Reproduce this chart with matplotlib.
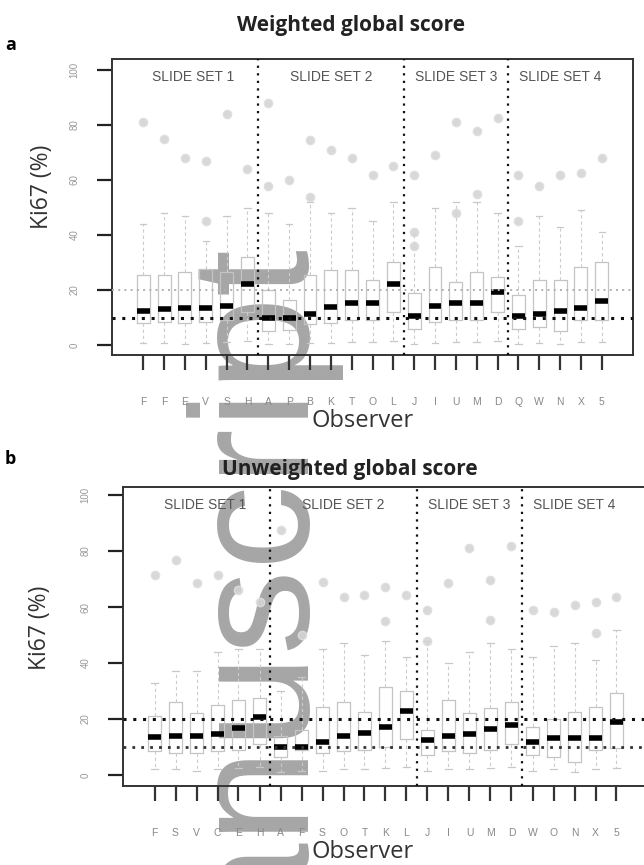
import matplotlib
matplotlib.use("Agg")
import matplotlib.pyplot as plt

# Ki67 scores per observer, two scoring methods
pos = list(range(2, 25))

obs_a = ['F', 'F', 'E', 'V', 'S', 'H', 'A', 'P', 'B', 'K', 'T', 'O', 'L',
         'J', 'I', 'U', 'M', 'D', 'Q', 'W', 'N', 'X', '5']
med_a = [12.4, 13.1, 13.5, 13.5, 14.2, 22.2, 9.8, 9.8, 11.3, 13.8, 15.3, 15.3, 22.2,
         10.5, 14.2, 15.3, 15.3, 19.3, 10.5, 11.3, 12.4, 13.5, 16.0]
q1_a = [8.0, 8.5, 8.0, 8.5, 9.0, 12.0, 5.0, 5.5, 7.5, 8.0, 9.0, 9.0, 12.0,
        6.0, 8.5, 9.0, 9.0, 12.0, 6.0, 6.7, 5.0, 9.0, 9.0]
q3_a = [25.5, 25.5, 26.7, 27.5, 26.7, 32.0, 20.0, 16.4, 25.5, 27.3, 27.3, 23.6, 30.3,
        18.8, 28.5, 23.0, 26.7, 24.8, 18.2, 23.6, 23.6, 28.5, 30.3]
lo_a = [0.8, 0.8, 0.5, 0.8, 1.0, 1.5, 0.5, 0.5, 0.8, 0.8, 1.0, 1.0, 1.5,
        0.5, 0.8, 1.0, 1.0, 1.5, 0.5, 0.8, 0.5, 1.0, 1.0]
hi_a = [44, 48, 47, 38, 47, 50, 48, 44, 52, 48, 50, 45, 52,
        40, 50, 52, 52, 48, 36, 47, 43, 49, 41]
out_a = [[81], [75], [68], [67, 45], [84], [64], [88, 58], [60], [74.5, 54], [71],
         [68], [62], [65], [62, 41, 36], [69], [81, 48], [78, 55], [82.5], [62, 45],
         [58], [62], [62.5], [68]]

obs_b = ['F', 'S', 'V', 'C', 'E', 'H', 'A', 'F', 'S', 'O', 'T', 'K', 'L',
         'J', 'I', 'U', 'M', 'D', 'W', 'O', 'N', 'X', '5']
med_b = [13.5, 13.9, 13.9, 14.6, 16.9, 20.6, 10.1, 10.1, 11.9, 13.9, 15.1, 17.0, 22.9,
         12.5, 13.9, 14.5, 16.3, 17.9, 11.7, 13.1, 13.1, 13.3, 18.8]
q1_b = [8.5, 8.0, 8.0, 8.5, 9.0, 11.0, 6.5, 8.9, 8.0, 8.5, 9.0, 10.0, 13.0,
        7.0, 8.5, 8.0, 9.0, 11.0, 7.1, 6.5, 4.8, 8.9, 9.5]
q3_b = [21.0, 26.2, 22.0, 25.0, 26.8, 27.5, 14.0, 16.0, 24.4, 26.2, 22.6, 31.5, 30.0,
        16.0, 26.8, 22.0, 24.0, 26.0, 17.0, 20.0, 22.6, 24.4, 29.2]
lo_b = [2.0, 2.0, 1.5, 2.0, 2.5, 3.0, 1.0, 1.5, 1.5, 2.0, 2.0, 2.5, 3.0,
        1.5, 2.0, 2.0, 2.5, 3.0, 1.5, 2.0, 1.0, 2.0, 2.5]
hi_b = [33, 37, 37, 44, 45, 45, 30, 35, 45, 47, 43, 48, 42,
        48, 40, 44, 47, 45, 42, 46, 47, 41, 52]
out_b = [[71.4], [76.8], [68.6], [71.4], [66], [62], [87.5], [50], [69], [63.7],
         [64.3], [67.3, 55], [64.3], [59, 48], [68.6], [81], [69.6, 55.4], [82],
         [59], [58.3], [60.7], [62, 50.7], [63.7]]

sets = ['SLIDE SET 1', 'SLIDE SET 2', 'SLIDE SET 3', 'SLIDE SET 4']
set_x = [4.4, 11.0, 17.0, 22.0]
dividers = [7.5, 14.5, 19.5]

W, H = 644, 865
fig = plt.figure(figsize=(6.44, 8.65), dpi=100)


def fx(x):
    return x / W


def fy(y):
    return 1 - y / H


# journal watermark, sits behind the (transparent) axes
fig.text(fx(295), fy(235), 'Manuscript', rotation=90, rotation_mode='anchor',
         ha='right', va='baseline', fontsize=122, color='#a6a6a6',
         family='Liberation Sans', zorder=-5)


def panel(rect, meds, q1, q3, lo, hi, outs, labels, ylim, line10, line20, title,
          letter, title_xy, letter_xy, ylab_xy, obs_y):
    ax = fig.add_axes(rect)
    ax.set_facecolor('none')
    stats = []
    for i in range(len(meds)):
        stats.append(dict(med=meds[i], q1=q1[i], q3=q3[i], whislo=lo[i],
                          whishi=hi[i], fliers=outs[i]))
    ax.bxp(stats, positions=pos, widths=0.62, manage_ticks=False,
           boxprops=dict(color='#c4c4c4', lw=0.9),
           whiskerprops=dict(color='#cccccc', lw=0.8, linestyle=(0, (3, 2.5))),
           capprops=dict(color='#c8c8c8', lw=0.9),
           medianprops=dict(color='black', lw=4, solid_capstyle='butt'),
           flierprops=dict(marker='o', markersize=6, markerfacecolor='#d4d4d4',
                           markeredgecolor='#dedede', alpha=0.9))
    ax.axhline(10, color=line10[0], lw=line10[1], linestyle=(0, (1, 2.2)), zorder=4)
    ax.axhline(20, color=line20[0], lw=line20[1], linestyle=(0, (1, 2.2)), zorder=4)
    for d in dividers:
        ax.axvline(d, color='#111111', lw=1.6, linestyle=(0, (1, 2.4)), zorder=4)
    for s, x in zip(sets, set_x):
        ax.text(x, ylim[1] - 6.5, s, ha='center', va='center', fontsize=10,
                color='#555555', family='Liberation Sans')
    ax.set_xlim(0.5, 25.5)
    ax.set_ylim(*ylim)
    ax.set_yticks([0, 20, 40, 60, 80, 100])
    ax.set_yticklabels(['0', '20', '40', '60', '80', '100'], rotation=90,
                       va='center', fontsize=7, color='#999999',
                       family='Liberation Sans')
    ax.set_xticks(pos)
    ax.set_xticklabels(labels, fontsize=7.5, color='#888888', family='Liberation Sans')
    ax.tick_params(axis='y', length=10.5, width=1.6, color='#222222', pad=13)
    ax.tick_params(axis='x', length=11, width=1.6, color='#333333', pad=19)
    for sp in ax.spines.values():
        sp.set_color('#333333')
        sp.set_linewidth(1.4)
    fig.text(fx(title_xy[0]), fy(title_xy[1]), title, ha='center', va='center',
             fontsize=15, fontweight='bold', family='Open Sans', color='#222222')
    fig.text(fx(letter_xy[0]), fy(letter_xy[1]), letter, ha='left', va='center',
             fontsize=13, fontweight='bold', family='Open Sans')
    fig.text(fx(ylab_xy[0]), fy(ylab_xy[1]), 'Ki67 (%)', rotation=90, ha='center',
             va='center', fontsize=16.5, family='Open Sans', color='#333333')
    fig.text(fx(363), fy(obs_y), 'Observer', ha='center', va='center',
             fontsize=17, family='Open Sans', color='#333333')
    return ax


panel([fx(112), fy(355), (633 - 112) / W, (355 - 59) / H],
      med_a, q1_a, q3_a, lo_a, hi_a, out_a, obs_a, (-3.6, 104),
      ('#111111', 2.2), ('#b0b0b0', 1.4), 'Weighted global score', 'a',
      (351, 25), (5, 45), (42, 187), 421)

panel([fx(123), fy(786), (648 - 123) / W, (786 - 487) / H],
      med_b, q1_b, q3_b, lo_b, hi_b, out_b, obs_b, (-3.9, 102.9),
      ('#333333', 2.0), ('#111111', 2.2), 'Unweighted global score', 'b',
      (350, 469), (5, 459), (40, 628), 852)

fig.savefig('out.png', dpi=100)
